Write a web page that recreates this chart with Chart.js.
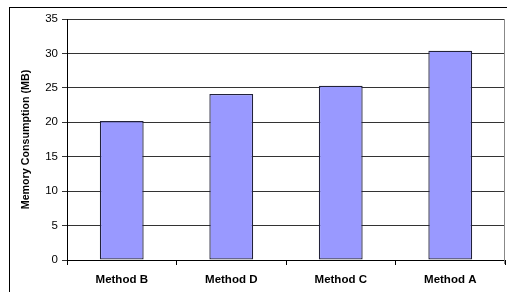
<!DOCTYPE html>
<html lang="en">
<head>
    <meta charset="UTF-8">
    <title>Memory Consumption</title>
    <script src="https://cdn.jsdelivr.net/npm/chart.js"></script>
    <style>
        body {
            margin: 0;
            padding: 0;
            background: white;
        }
        .chart-box {
            position: relative;
            width: 507px;
            height: 292px;
        }
    </style>
</head>
<body>
    <div class="chart-box">
        <canvas id="memChart"></canvas>
    </div>
    <script>
        const methods = ['Method B', 'Method D', 'Method C', 'Method A'];
        const memoryMB = [20.2, 24.1, 25.3, 30.4];
        const yTicks = [0, 5, 10, 15, 20, 25, 30, 35];

        // marco exterior y borde derecho del área de trazado
        const framePlugin = {
            id: 'frame',
            afterDraw(chart) {
                const c = chart.ctx;
                const a = chart.chartArea;
                c.save();
                c.strokeStyle = '#000';
                c.lineWidth = 1;
                c.strokeRect(9.5, 7.5, 700, 400);
                c.strokeStyle = '#888';
                c.beginPath();
                c.moveTo(Math.round(a.right) - 0.5, a.top);
                c.lineTo(Math.round(a.right) - 0.5, a.bottom + 4);
                c.stroke();
                c.restore();
            }
        };

        new Chart(document.getElementById('memChart'), {
            type: 'bar',
            data: {
                labels: methods,
                datasets: [{
                    label: 'Memory Consumption (MB)',
                    data: memoryMB,
                    backgroundColor: '#9999FF',
                    borderColor: '#22223a',
                    borderWidth: 1.3,
                    borderSkipped: false,
                    inflateAmount: 0,
                    barPercentage: 0.4,
                    categoryPercentage: 1
                }]
            },
            options: {
                responsive: true,
                maintainAspectRatio: false,
                animation: false,
                layout: {
                    padding: { top: 19, right: 2, left: 0, bottom: 0 }
                },
                plugins: {
                    legend: { display: false },
                    tooltip: { enabled: false }
                },
                scales: {
                    x: {
                        afterFit: function(s) { s.height = 32; },
                        grid: {
                            offset: true,
                            drawOnChartArea: false,
                            drawTicks: true,
                            tickLength: 5,
                            color: '#000'
                        },
                        border: { color: '#000', width: 1 },
                        ticks: {
                            color: '#000',
                            padding: 8,
                            font: { family: 'Liberation Sans, Arial, sans-serif', size: 11.5, weight: 'bold' }
                        }
                    },
                    y: {
                        min: 0,
                        max: 35,
                        afterFit: function(s) { s.width = 67; },
                        afterBuildTicks: function(s) { s.ticks = yTicks.map(v => ({ value: v })); },
                        grid: {
                            color: '#333',
                            tickLength: 5,
                            drawTicks: true
                        },
                        border: { color: '#000', width: 1 },
                        ticks: {
                            color: '#000',
                            padding: 4,
                            font: { family: 'Liberation Sans, Arial, sans-serif', size: 11.5 }
                        },
                        title: {
                            display: true,
                            text: 'Memory Consumption (MB)',
                            color: '#000',
                            padding: { top: 20, bottom: 0 },
                            font: { family: 'Liberation Sans, Arial, sans-serif', size: 10.7, weight: 'bold' }
                        }
                    }
                }
            },
            plugins: [framePlugin]
        });
    </script>
</body>
</html>
